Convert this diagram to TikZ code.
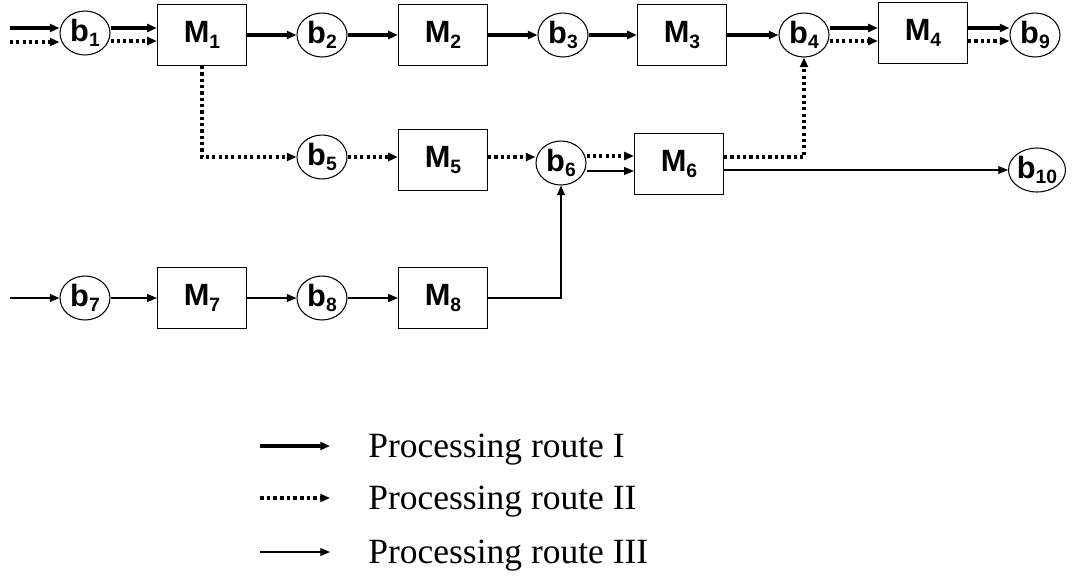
\documentclass[tikz,border=0pt]{standalone}
\usepackage{fontspec}
\setmainfont{Liberation Serif}
\newfontfamily\labfont{Liberation Sans}
\usetikzlibrary{shapes.geometric,arrows.meta,calc}
\newcommand{\sbs}[1]{\raisebox{-0.35ex}{\fontsize{11}{12}\selectfont #1}}
\begin{document}
\begin{tikzpicture}[x=0.02cm,y=-0.02cm,
  buf/.style={ellipse,draw,line width=0.6pt,minimum width=1cm,minimum height=0.88cm,inner sep=0pt,font=\labfont\bfseries\fontsize{17.5}{19}\selectfont},
  mach/.style={rectangle,draw,line width=0.7pt,minimum width=1.78cm,minimum height=1.22cm,inner sep=0pt,font=\labfont\bfseries\fontsize{17.5}{19}\selectfont},
  tip/.style={-{Triangle[length=5.5pt,width=4.5pt]}},
  rI/.style={tip,line width=2.2pt},
  rII/.style={tip,line width=2pt,dash pattern=on 1.8pt off 1.8pt},
  rIII/.style={tip,line width=0.6pt},
  leg/.style={anchor=west,inner sep=0pt,font=\fontsize{20.2}{24}\selectfont}]
\useasboundingbox (0,0) rectangle (1072,579);
% nodes
\node[buf] (b1) at (85,33) {b\sbs{1}};
\node[mach] (M1) at (202,35) {M\sbs{1}};
\node[buf] (b2) at (322,35) {b\sbs{2}};
\node[mach] (M2) at (443,35) {M\sbs{2}};
\node[buf] (b3) at (563,35) {b\sbs{3}};
\node[mach] (M3) at (682,35) {M\sbs{3}};
\node[buf] (b4) at (804,35) {b\sbs{4}};
\node[mach] (M4) at (923,33) {M\sbs{4}};
\node[buf] (b9) at (1035,35) {b\sbs{9}};
\node[buf] (b5) at (322,157) {b\sbs{5}};
\node[mach] (M5) at (443,160) {M\sbs{5}};
\node[buf] (b6) at (561,163) {b\sbs{6}};
\node[mach] (M6) at (679,164) {M\sbs{6}};
\node[buf] (b10) at (1037,170) {b\sbs{10}};
\node[buf] (b7) at (85,298) {b\sbs{7}};
\node[mach] (M7) at (202,298) {M\sbs{7}};
\node[buf] (b8) at (322,298) {b\sbs{8}};
\node[mach] (M8) at (443,298) {M\sbs{8}};
% free ends
\coordinate (inI) at (10,28);
\coordinate (inII) at (10,42);
\coordinate (inIII) at (10,298);
\coordinate (yI) at (0,28);
\coordinate (yII) at (0,41);
\coordinate (r6a) at (0,156);
\coordinate (r6b) at (0,171);
\coordinate (r6c) at (0,157);
% route I
\draw[rI] (inI) -- (inI -| b1.west);
\draw[rI] (b1.east |- yI) -- (M1.west |- yI);
\draw[rI] (M1.east) -- (b2.west);
\draw[rI] (b2.east) -- (M2.west);
\draw[rI] (M2.east) -- (b3.west);
\draw[rI] (b3.east) -- (M3.west);
\draw[rI] (M3.east) -- (b4.west);
\draw[rI] (b4.east |- yI) -- (M4.west |- yI);
\draw[rI] (M4.east |- yI) -- (b9.west |- yI);
% route II
\draw[rII] (inII) -- (inII -| b1.west);
\draw[rII] (b1.east |- yII) -- (M1.west |- yII);
\draw[rII] (M1.south) |- (b5.west);
\draw[rII] (b5.east) -- (M5.west |- b5.east);
\draw[rII] (M5.east |- b5.east) -- (b6.west |- b5.east);
\draw[rII] (b6.east |- r6a) -- (M6.west |- r6a);
\draw[rII] (M6.east |- r6c) -| (b4.south);
\draw[rII] (b4.east |- yII) -- (M4.west |- yII);
\draw[rII] (M4.east |- yII) -- (b9.west |- yII);
% route III
\draw[rIII] (inIII) -- (b7.west);
\draw[rIII] (b7.east) -- (M7.west);
\draw[rIII] (M7.east) -- (b8.west);
\draw[rIII] (b8.east) -- (M8.west);
\draw[rIII] (M8.east) -| (b6.south);
\draw[rIII] (b6.east |- r6b) -- (M6.west |- r6b);
\draw[rIII] (M6.east |- b10.west) -- (b10.west);
% legend
\coordinate (l1a) at (260,446); \coordinate (l1b) at (330,446);
\coordinate (l2a) at (260,498); \coordinate (l2b) at (330,498);
\coordinate (l3a) at (260,552); \coordinate (l3b) at (330,552);
\draw[rI,line width=2.4pt] (l1a) -- (l1b);
\draw[rII,line width=2.2pt,dash pattern=on 2pt off 1.8pt] (l2a) -- (l2b);
\draw[rIII] (l3a) -- (l3b);
\node[leg] (t1) at (368,450) {Processing route I};
\node[leg] (t2) at (368,502) {Processing route II};
\node[leg] (t3) at (368,556) {Processing route III};
\end{tikzpicture}
\end{document}
